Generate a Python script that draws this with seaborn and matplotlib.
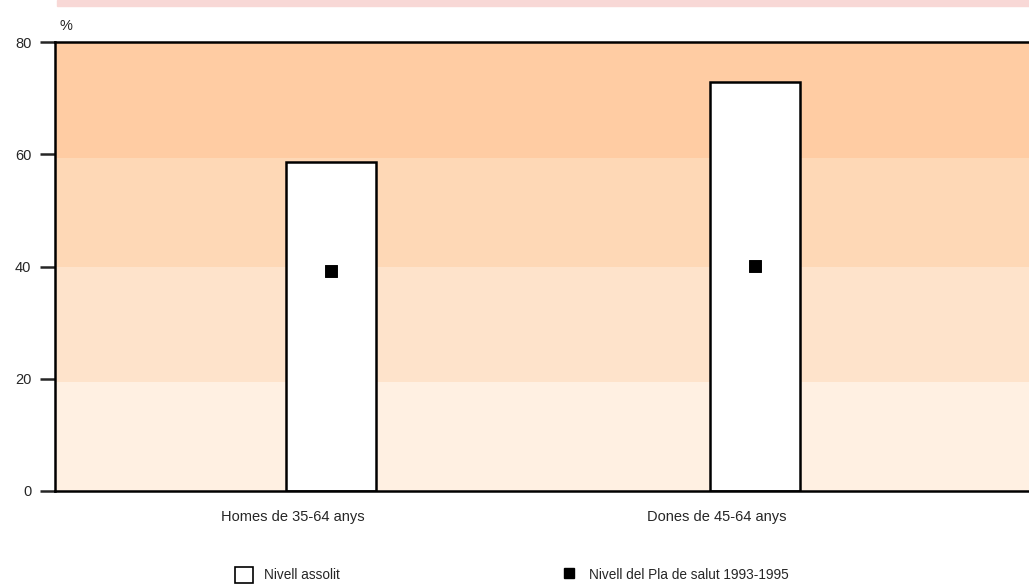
import numpy as np
import pandas as pd
import seaborn as sns
import matplotlib.pyplot as plt
import matplotlib.transforms as mtransforms
from matplotlib.patches import Patch, Rectangle
from matplotlib.lines import Line2D

# data
groups = ['Homes de 35-64 anys', 'Dones de 45-64 anys']
assolit = [58.6, 72.9]
pla_salut = [39.2, 40.1]
bands = [0, 19.4, 40, 59.3, 80]
band_colors = ['#fff0e2', '#fee3cb', '#fed8b6', '#ffcca3']

df = pd.DataFrame({'grup': groups, 'assolit': assolit, 'pla': pla_salut})

sns.set_style('white')
plt.rcParams['font.family'] = ['Liberation Sans', 'DejaVu Sans']

fig = plt.figure(figsize=(10.29, 5.84), dpi=100)
ax = fig.add_axes([55 / 1029, 93 / 584, 974 / 1029, 449 / 584])

# shaded background bands
for lo, hi, c in zip(bands[:-1], bands[1:], band_colors):
    ax.axhspan(lo, hi, color=c, zorder=0, lw=0)

sns.barplot(data=df, x='grup', y='assolit', ax=ax, color='white',
            edgecolor='black', linewidth=1.8, width=0.212, zorder=2)
sns.scatterplot(data=df, x='grup', y='pla', ax=ax, marker='s', s=70,
                color='black', edgecolor='black', zorder=3, legend=False)

ax.set_xlim(-0.651, 1.646)
ax.set_ylim(0, 80)
ax.set_yticks([0, 20, 40, 60, 80])
ax.set_xlabel('')
ax.set_ylabel('')
ax.tick_params(axis='y', length=11, width=1.8, direction='out', left=True,
               labelsize=10.5, pad=6)
ax.tick_params(axis='x', length=0, labelsize=10.5, pad=14)
# category labels sit a bit left of the bars in the original
shift = mtransforms.ScaledTranslation(-38 / 100, 0, fig.dpi_scale_trans)
for lab in ax.get_xticklabels():
    lab.set_transform(lab.get_transform() + shift)
for s in ['left', 'bottom', 'top']:
    ax.spines[s].set_visible(True)
    ax.spines[s].set_color('black')
    ax.spines[s].set_linewidth(1.8)
ax.spines['right'].set_visible(False)

ax.text(0.005, 1.02, '%', transform=ax.transAxes, fontsize=10.5,
        ha='left', va='bottom')

# pink strip at the very top
fig.patches.append(Rectangle((57 / 1029, 578 / 584), 1, 6 / 584,
                             transform=fig.transFigure, color='#f8d8d6',
                             zorder=0))

handles = [Patch(facecolor='white', edgecolor='black', linewidth=1.2),
           Line2D([], [], marker='s', color='black', linestyle='none',
                  markersize=7)]
fig.legend(handles, ['Nivell assolit', 'Nivell del Pla de salut 1993-1995'],
           loc='center left', bbox_to_anchor=(223 / 1029, 9 / 584),
           ncol=2, frameon=False, fontsize=9.8, columnspacing=16.2,
           handlelength=1.3, handleheight=1.5, handletextpad=0.8)

fig.savefig('out.png', dpi=100)
